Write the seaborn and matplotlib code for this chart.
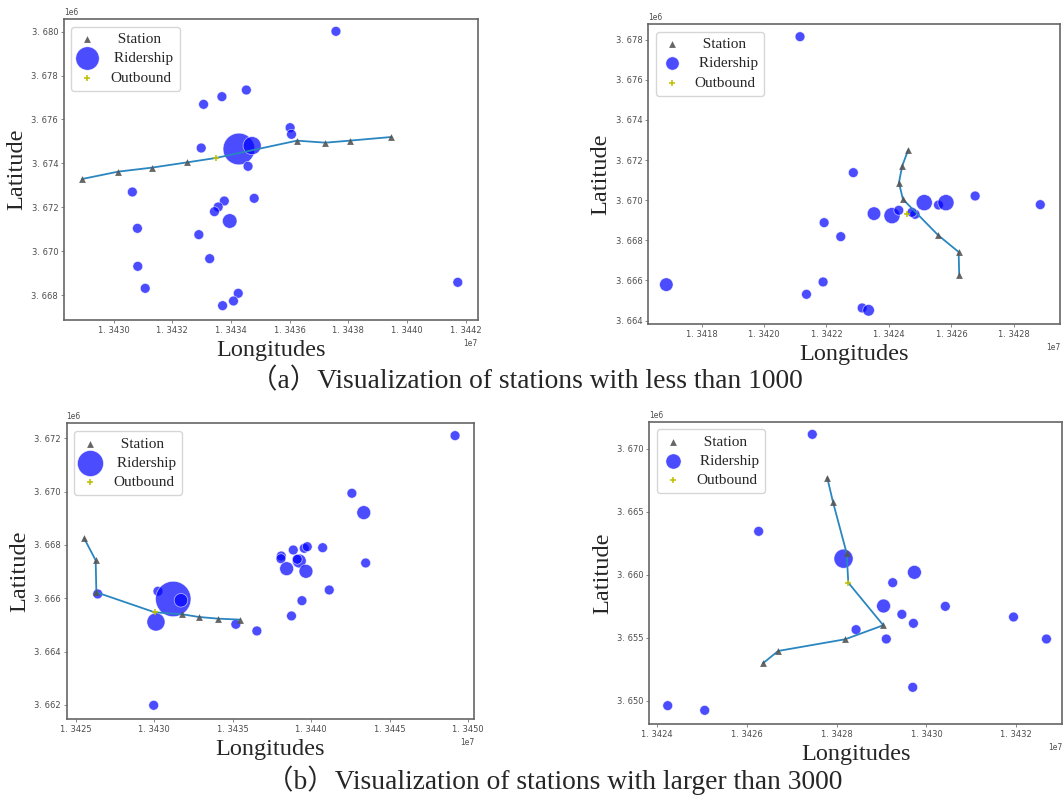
import numpy as np
import matplotlib
matplotlib.use('Agg')
import matplotlib.pyplot as plt
import matplotlib.ticker as ticker
import seaborn as sns

# ---- (a) left: ridership < 1000, line 1
sta_a_x = [13428924, 13430150, 13431296, 13432512, 13436250, 13437222, 13438044, 13439467]
sta_a_y = [3673288, 3673622, 3673804, 3674047, 3675034, 3674943, 3675034, 3675201]
out_a = (13433484, 3674245)
rid_a_x = [13437581, 13434525, 13433692, 13433067, 13436018, 13436065, 13434271, 13434722,
           13432986, 13434583, 13430637, 13434792, 13433773, 13433565, 13433437, 13433958,
           13430810, 13432905, 13433275, 13430822, 13431076, 13434248, 13434086, 13433715,
           13441736]
rid_a_y = [3680015, 3677342, 3677039, 3676689, 3675626, 3675323, 3674655, 3674806,
           3674700, 3673865, 3672696, 3672407, 3672286, 3672012, 3671800, 3671374,
           3671040, 3670752, 3669658, 3669309, 3668307, 3668079, 3667730, 3667517,
           3668580]
rid_a = [50, 50, 50, 50, 50, 50, 520, 170, 50, 50, 50, 50, 50, 50, 50, 110,
         50, 50, 50, 50, 50, 50, 50, 50, 50]

# ---- (a) right: ridership < 1000, line 2
sta_b_x = [13424617, 13424425, 13424320, 13424448, 13425578, 13426232, 13426251]
sta_b_y = [3672504, 3671706, 3670874, 3670047, 3668253, 3667421, 3666275]
out_b = (13424585, 3669300)
rid_b_x = [13421152, 13422859, 13421924, 13422457, 13416870, 13421359, 13421891, 13423142,
           13423348, 13423522, 13424098, 13424315, 13424837, 13424739, 13425131, 13425587,
           13425826, 13426761, 13428848]
rid_b_y = [3678149, 3671373, 3668881, 3668183, 3665792, 3665310, 3665925, 3664629,
           3664513, 3669330, 3669230, 3669496, 3669296, 3669396, 3669878, 3669761,
           3669878, 3670210, 3669778]
rid_b = [50, 50, 50, 50, 95, 50, 50, 50, 70, 95, 135, 50, 50, 50, 135, 50, 135, 50, 50]

# ---- (b) left: ridership > 3000, line 1
sta_c_x = [13425540, 13426275, 13426318, 13431786, 13432844, 13434055, 13435459]
sta_c_y = [3668250, 3667425, 3666225, 3665400, 3665300, 3665237, 3665200]
out_c = (13430031, 3665475)
rid_c_x = [13449160, 13442591, 13443347, 13443467, 13441149, 13439411, 13438744, 13436540,
           13435200, 13429970, 13430241, 13431215, 13431706, 13426405, 13430114,
           13438093, 13438074, 13438857, 13439557, 13439748, 13440729, 13439239, 13439111,
           13438436, 13439665]
rid_c_y = [3672100, 3669938, 3669212, 3667324, 3666311, 3665910, 3665338, 3664775,
           3665025, 3661987, 3666263, 3665974, 3665925, 3666162, 3665111,
           3667586, 3667485, 3667811, 3667875, 3667935, 3667897, 3667399, 3667463,
           3667110, 3667012]
rid_c = [50, 50, 100, 50, 50, 50, 50, 50, 50, 50, 50, 650, 95, 50, 170,
         50, 50, 50, 50, 50, 50, 100, 50, 100, 100]

# ---- (b) right: ridership > 3000, line 2
sta_d_x = [13427793, 13427920, 13428225, 13429040, 13428194, 13426702, 13426362]
sta_d_y = [3667701, 3665775, 3661709, 3656003, 3654893, 3653966, 3652991]
out_d = (13428261, 3659379)
rid_d_x = [13427460, 13426266, 13428155, 13429733, 13429250, 13429046, 13430421, 13429454,
           13429711, 13428434, 13429107, 13431939, 13432672, 13429696, 13424242, 13425065]
rid_d_y = [3671136, 3663448, 3661281, 3660198, 3659379, 3657530, 3657503, 3656869,
           3656156, 3655654, 3654914, 3656658, 3654914, 3651083, 3649630, 3649260]
rid_d = [50, 50, 190, 100, 50, 100, 50, 50, 50, 50, 50, 50, 50, 50, 50, 50]

captions = ['（a）Visualization of stations with less than 1000',
            '（b）Visualization of stations with larger than 3000']

sns.set_style('white')
plt.rcParams['font.family'] = ['DejaVu Sans']
serif = ['Liberation Serif', 'Noto Sans CJK SC']

W, H = 1064, 796
fig = plt.figure(figsize=(W / 100, H / 100), dpi=100)


def px_axes(left, right, top, bottom):
    return fig.add_axes([left / W, 1 - bottom / H, (right - left) / W, (bottom - top) / H])


class SpacedFormatter(ticker.ScalarFormatter):
    def __call__(self, x, pos=None):
        return super().__call__(x, pos).replace('.', '. ')


def panel(ax, sx, sy, out, out_idx, rx, ry, rs, xlim, ylim, xstep, ystep):
    sns.scatterplot(x=rx, y=ry, s=rs, color='b', alpha=0.7, edgecolor='w',
                    linewidth=0.5, ax=ax, zorder=2)
    rid = ax.collections[-1]
    lx, ly = list(sx), list(sy)
    if out_idx is not None:
        lx.insert(out_idx, out[0])
        ly.insert(out_idx, out[1])
    sns.lineplot(x=lx, y=ly, sort=False, estimator=None, color='#2a86c0', lw=1.3,
                 ax=ax, zorder=3)
    sns.scatterplot(x=sx, y=sy, marker='^', s=24, color='#555555', linewidth=0,
                    alpha=0.9, ax=ax, zorder=4)
    sta = ax.collections[-1]
    sns.scatterplot(x=[out[0]], y=[out[1]], marker='+', s=16, color='y', linewidth=1.1,
                    ax=ax, zorder=5)
    ob = ax.collections[-1]

    ax.set_xlim(*xlim)
    ax.set_ylim(*ylim)
    ax.xaxis.set_major_locator(ticker.MultipleLocator(xstep))
    ax.yaxis.set_major_locator(ticker.MultipleLocator(ystep))
    ax.xaxis.set_major_formatter(SpacedFormatter(useOffset=False))
    ax.yaxis.set_major_formatter(SpacedFormatter(useOffset=False))
    ax.tick_params(labelsize=6, labelcolor='0.3', color='0.45', length=2, width=0.6,
                   pad=2, left=True, bottom=True)
    for t in (ax.xaxis.get_offset_text(), ax.yaxis.get_offset_text()):
        t.set_fontsize(5.5)
        t.set_color('0.3')
    for sp in ax.spines.values():
        sp.set_color('0.4')
        sp.set_linewidth(1.2)
    ax.set_xlabel('Longitudes', fontfamily=serif, fontsize=17.5, labelpad=4)
    ax.set_ylabel('Latitude', fontfamily=serif, fontsize=17.5, labelpad=3)
    ax.legend([sta, rid, ob], ['  Station', ' Ridership', 'Outbound'], loc='upper left',
              prop={'family': serif, 'size': 11}, frameon=True, fancybox=True,
              framealpha=0.8, edgecolor='0.8', handlelength=1.3, handletextpad=0.85,
              labelspacing=0.35, borderpad=0.4)


ax_a = px_axes(63.8, 477.8, 19, 320)
panel(ax_a, sta_a_x, sta_a_y, out_a, 4, rid_a_x, rid_a_y, rid_a,
      (13428299, 13442419), (3666864, 3680577), 2000, 2000)

ax_b = px_axes(648, 1060, 24, 324.3)
panel(ax_b, sta_b_x, sta_b_y, out_b, None, rid_b_x, rid_b_y, rid_b,
      (13416283, 13429479), (3663815, 3678781), 2000, 2000)

ax_c = px_axes(66.5, 474.4, 423.3, 719.3)
panel(ax_c, sta_c_x, sta_c_y, out_c, 3, rid_c_x, rid_c_y, rid_c,
      (13424417, 13450392), (3661462, 3672562), 5000, 2000)

ax_d = px_axes(649.4, 1062, 421.7, 724.3)
panel(ax_d, sta_d_x, sta_d_y, out_d, 3, rid_d_x, rid_d_y, rid_d,
      (13423834, 13433018), (3648151, 3672140), 2000, 5000)

fig.text(526 / W, 1 - 381.5 / H, captions[0], ha='center', va='center',
         fontsize=19.8, family=serif)
fig.text(554 / W, 1 - 780 / H, captions[1], ha='center', va='center',
         fontsize=19.8, family=serif)

fig.savefig('out.png', dpi=100)
